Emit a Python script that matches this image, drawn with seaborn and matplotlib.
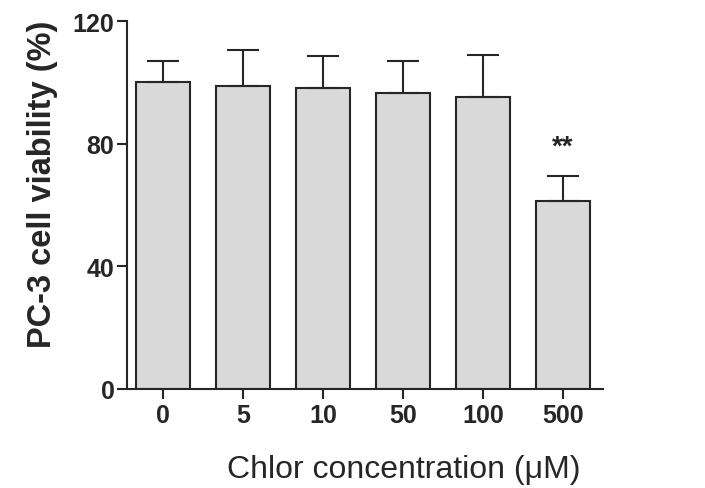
import numpy as np
import pandas as pd
import matplotlib
matplotlib.use('Agg')
import matplotlib.pyplot as plt
import seaborn as sns

concentrations = ['0', '5', '10', '50', '100', '500']
viability = [100.1, 98.7, 98.1, 96.6, 95.2, 61.2]
sd_upper = [6.7, 11.7, 10.6, 10.2, 13.6, 8.2]
significance = ['', '', '', '', '', '**']

df = pd.DataFrame({'conc': concentrations, 'viability': viability})

sns.set_style('ticks')
plt.rcParams['font.family'] = ['Liberation Sans', 'DejaVu Sans']

ink = '#262626'
fig = plt.figure(figsize=(7.05, 4.89), dpi=100)
ax = fig.add_axes([0.180, 0.2025, 0.675, 0.7525])

sns.barplot(data=df, x='conc', y='viability', order=concentrations,
            color='#d9d9d9', width=0.675, edgecolor=ink, linewidth=1.5,
            errorbar=None, saturation=1, ax=ax)

# upper error bars only
xs = np.arange(len(concentrations))
ax.errorbar(xs, viability, yerr=[np.zeros(len(sd_upper)), sd_upper],
            fmt='none', ecolor=ink, elinewidth=1.5, capsize=11.5, capthick=1.5)

for x, m, e, s in zip(xs, viability, sd_upper, significance):
    if s:
        ax.text(x, m + e + 9.5, s, ha='center', va='center', fontsize=20,
                fontweight='bold', color=ink)

ax.set_xlim(-0.45, 5.5)
ax.set_ylim(0, 120)
ax.set_yticks([0, 40, 80, 120])
sns.despine(ax=ax)
for sp in ['left', 'bottom']:
    ax.spines[sp].set_color(ink)
    ax.spines[sp].set_linewidth(1.5)
ax.tick_params(axis='both', colors=ink, width=1.5, length=7, labelsize=18)
ax.tick_params(axis='y', pad=2)
ax.tick_params(axis='x', pad=3)
for lab in ax.get_xticklabels() + ax.get_yticklabels():
    lab.set_fontweight('bold')

ax.set_xlabel('Chlor concentration (\u03bcM)', fontsize=23, color=ink)
ax.xaxis.label.set_va('center')
ax.xaxis.set_label_coords(0.582, -0.218)
ax.set_ylabel('PC-3 cell viability (%)', fontsize=23.5, fontweight='bold', color=ink)
ax.yaxis.label.set_va('center')
ax.yaxis.set_label_coords(-0.178, 0.56)

fig.savefig('out.png', dpi=100)
